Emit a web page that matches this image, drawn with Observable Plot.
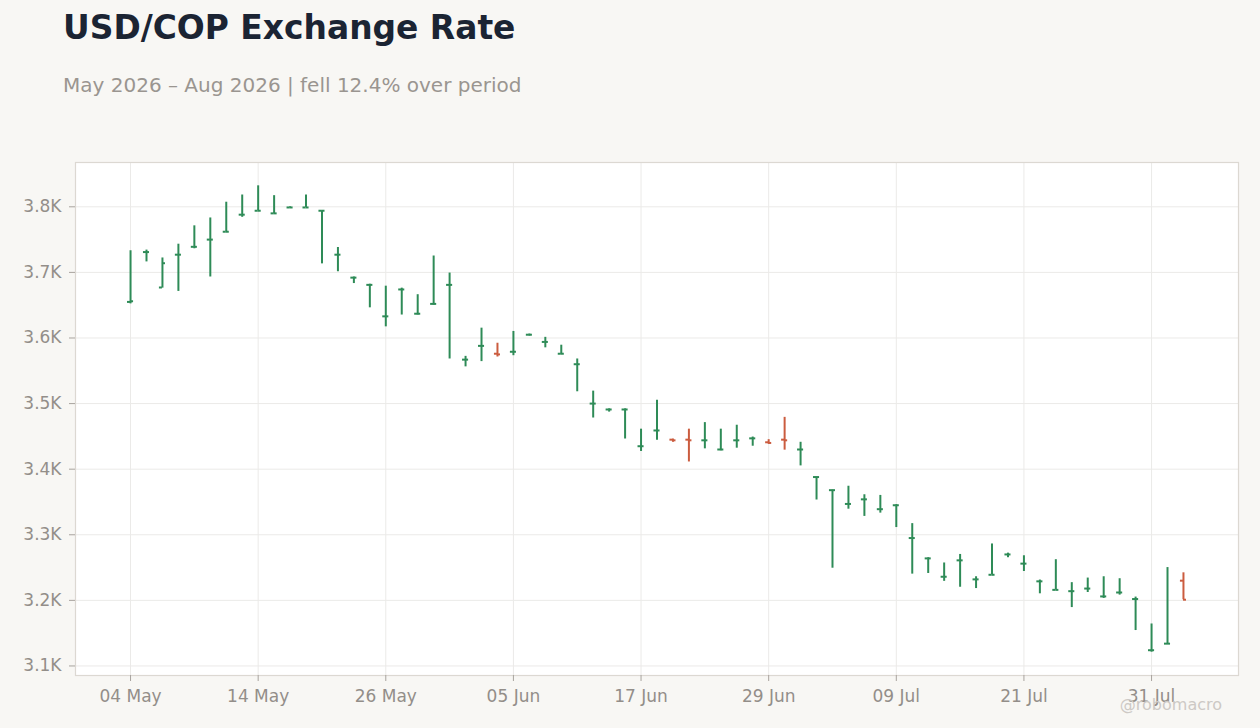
<!DOCTYPE html>
<html>
<head>
<meta charset="utf-8">
<script src="https://cdn.jsdelivr.net/npm/d3@7"></script>
<script src="https://cdn.jsdelivr.net/npm/@observablehq/plot@0.6"></script>
<style>
  html, body { margin: 0; padding: 0; background: #f8f7f4; }
  body { width: 1260px; height: 728px; position: relative; overflow: hidden; font-family: "DejaVu Sans", sans-serif; }
  .title { position: absolute; left: 63px; top: 11.5px; font-size: 32.9px; line-height: 1; font-weight: bold; color: #1b2433; white-space: nowrap; }
  .subtitle { position: absolute; left: 63px; top: 74.8px; font-size: 20px; line-height: 1; color: #9a9590; white-space: nowrap; }
  .credit { position: absolute; right: 38px; top: 696.5px; font-size: 16px; line-height: 1; color: #cdc9c5; white-space: nowrap; }
  #chart { position: absolute; left: 0; top: 140px; }
</style>
</head>
<body>
<div class="title">USD/COP Exchange Rate</div>
<div class="subtitle">May 2026 – Aug 2026 | fell 12.4% over period</div>
<div id="chart"></div>
<div class="credit">@robomacro</div>
<script>
const dates = [
  "2026-05-04","2026-05-05","2026-05-06","2026-05-07","2026-05-08",
  "2026-05-11","2026-05-12","2026-05-13","2026-05-14","2026-05-15",
  "2026-05-18","2026-05-19","2026-05-20","2026-05-21","2026-05-22",
  "2026-05-25","2026-05-26","2026-05-27","2026-05-28","2026-05-29",
  "2026-06-01","2026-06-02","2026-06-03","2026-06-04","2026-06-05",
  "2026-06-08","2026-06-09","2026-06-10","2026-06-11","2026-06-12",
  "2026-06-15","2026-06-16","2026-06-17","2026-06-18","2026-06-19",
  "2026-06-22","2026-06-23","2026-06-24","2026-06-25","2026-06-26",
  "2026-06-29","2026-06-30","2026-07-01","2026-07-02","2026-07-03",
  "2026-07-06","2026-07-07","2026-07-08","2026-07-09","2026-07-10",
  "2026-07-13","2026-07-14","2026-07-15","2026-07-16","2026-07-17",
  "2026-07-20","2026-07-21","2026-07-22","2026-07-23","2026-07-24",
  "2026-07-27","2026-07-28","2026-07-29","2026-07-30","2026-07-31",
  "2026-08-03","2026-08-04"
];
const open = [
  3655,3731,3677,3727,3739,3750,3762,3788,3794,3790,3799,3799,3794,3727,3692,3681,3633,3674,3637,3652,
  3681,3567,3588,3576,3579,3605,3594,3576,3560,3500,3491,3491,3435,3459,3445,3445,3444,3430,3444,3447,
  3441,3445,3430,3388,3368,3347,3354,3339,3345,3295,3264,3236,3261,3232,3239,3270,3256,3229,3216,3214,
  3218,3206,3212,3202,3124,3134,3230
];
const high = [
  3733,3734,3722,3743,3771,3783,3807,3818,3832,3817,3800,3818,3794,3738,3693,3682,3679,3676,3666,3725,
  3699,3572,3615,3592,3610,3606,3601,3589,3568,3519,3492,3492,3461,3505,3446,3461,3471,3461,3467,3449,
  3445,3479,3441,3388,3368,3374,3361,3360,3346,3317,3265,3257,3270,3236,3286,3272,3268,3231,3262,3227,
  3234,3236,3233,3205,3164,3250,3242
];
const low = [
  3652,3716,3676,3671,3736,3693,3762,3784,3794,3789,3798,3799,3713,3701,3683,3646,3617,3635,3635,3650,
  3568,3556,3564,3571,3573,3603,3585,3575,3518,3478,3487,3446,3427,3444,3441,3411,3431,3428,3432,3435,
  3438,3429,3405,3353,3249,3339,3328,3333,3311,3240,3241,3229,3220,3218,3239,3265,3244,3210,3216,3189,
  3212,3203,3208,3154,3121,3133,3201
];
const close = [
  3656,3731,3714,3727,3739,3750,3762,3788,3794,3790,3799,3799,3794,3727,3692,3681,3633,3674,3637,3652,
  3681,3567,3588,3575,3579,3605,3594,3576,3560,3500,3491,3491,3435,3459,3444,3444,3444,3430,3444,3447,
  3440,3444,3430,3388,3368,3347,3354,3339,3345,3295,3264,3236,3261,3232,3239,3270,3256,3229,3216,3214,
  3218,3206,3212,3202,3124,3134,3201
];
const xTickIndex = [0, 8, 16, 24, 32, 40, 48, 56, 64];
const yTicks = [3100, 3200, 3300, 3400, 3500, 3600, 3700, 3800];

const GREEN = "#2e8b57";
const RED = "#cb5c3f";

const data = dates.map((d, i) => ({
  i, date: new Date(d + "T00:00:00Z"),
  open: open[i], high: high[i], low: low[i], close: close[i]
}));
const col = d => d.close >= d.open ? GREEN : RED;

const lo = d3.min(low), hi = d3.max(high), pad = (hi - lo) * 0.05;
const fmtDate = d3.utcFormat("%d %b");
const TW = 0.19;

const chart = Plot.plot({
  width: 1260,
  height: 588,
  marginTop: 22,
  marginBottom: 53,
  marginLeft: 75,
  marginRight: 22,
  style: { background: "transparent", fontFamily: "DejaVu Sans, sans-serif", fontSize: "17px", color: "#938e89", overflow: "visible" },
  color: { type: "identity" },
  x: { type: "linear", domain: [-3.45, 69.45] },
  y: { domain: [lo - pad, hi + pad] },
  marks: [
    Plot.frame({ fill: "#ffffff", stroke: "none" }),
    Plot.gridX(xTickIndex, { stroke: "#ebeae8", strokeOpacity: 1, strokeWidth: 1 }),
    Plot.gridY(yTicks, { stroke: "#ebeae8", strokeOpacity: 1, strokeWidth: 1 }),
    Plot.frame({ stroke: "#dcd8d2", strokeWidth: 1.2 }),
    Plot.axisX(xTickIndex, { tickFormat: i => fmtDate(data[i].date), tickSize: 6, tickPadding: 8, label: null, stroke: "#a8a39e" }),
    Plot.axisY(yTicks, { tickFormat: v => (v / 1000).toFixed(1) + "K", tickSize: 6, tickPadding: 8, label: null, stroke: "#a8a39e" }),
    Plot.ruleX(data, { x: "i", y1: "low", y2: "high", stroke: col, strokeWidth: 2 }),
    Plot.ruleY(data, { x1: d => d.i - TW, x2: "i", y: "open", stroke: col, strokeWidth: 2 }),
    Plot.ruleY(data, { x1: "i", x2: d => d.i + TW, y: "close", stroke: col, strokeWidth: 2 })
  ]
});
document.getElementById("chart").appendChild(chart);
</script>
</body>
</html>
